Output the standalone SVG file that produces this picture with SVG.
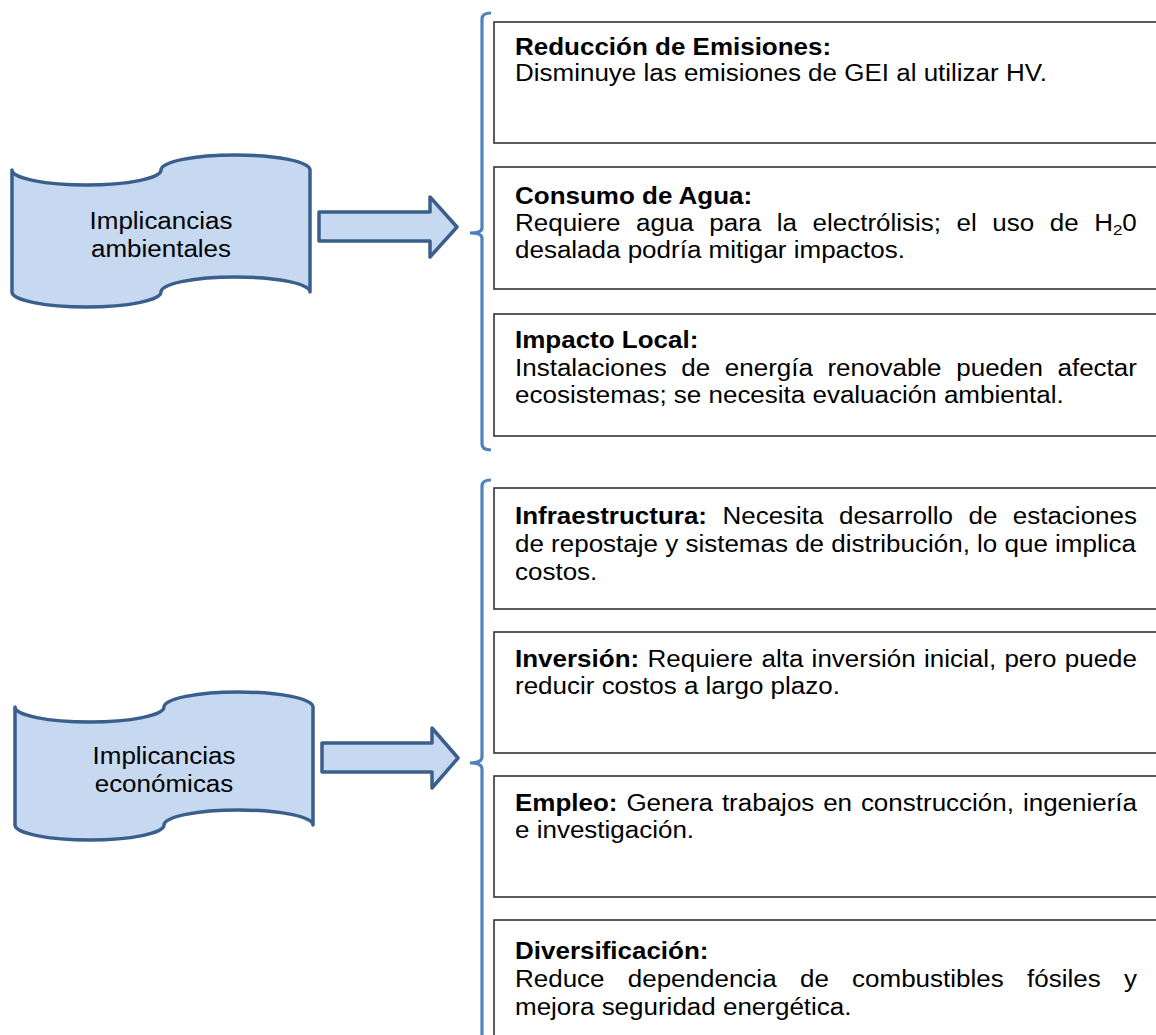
<svg xmlns="http://www.w3.org/2000/svg" width="1156" height="1035" viewBox="0 0 1156 1035">
<style>
.shape{fill:#C6D9F1;stroke:#3A5F8C;stroke-width:3.5;stroke-linejoin:round}
.brace{fill:none;stroke:#4F81BD;stroke-width:3.2;stroke-linecap:butt}
.box{fill:#FFFFFF;stroke:#333333;stroke-width:1.6}
.lbl{font-family:"Liberation Sans",Arial,sans-serif;font-size:23px;fill:#000;text-anchor:middle}
.t{font-family:"Liberation Sans",Arial,sans-serif;font-size:23px;fill:#000}
.b{font-weight:bold}
</style>
<rect width="1156" height="1035" fill="#FFFFFF"/>
<g id="node-amb">
<path class="shape" d="M12,170 A74.5,15 0 0 0 161,170 A74.5,15 0 0 1 310,170 L310,292 A74.5,15 0 0 0 161,292 A74.5,15 0 0 1 12,292 Z"/>
<text class="lbl" transform="translate(161,229) scale(1.13,1)"><tspan x="0" y="0">Implicancias</tspan><tspan x="0" y="28">ambientales</tspan></text>
</g>
<g id="node-eco">
<path class="shape" d="M15,707 A74.5,15 0 0 0 164,707 A74.5,15 0 0 1 313,707 L313,825 A74.5,15 0 0 0 164,825 A74.5,15 0 0 1 15,825 Z"/>
<text class="lbl" transform="translate(164,764) scale(1.13,1)"><tspan x="0" y="0">Implicancias</tspan><tspan x="0" y="28">económicas</tspan></text>
</g>
<g id="connectors">
<path class="shape" d="M319,212 L430,212 L430,197 L457,227 L430,257 L430,241 L319,241 Z"/>
<path class="shape" d="M322,743 L432,743 L432,728 L458,758 L432,788 L432,772 L322,772 Z"/>
<path class="brace" d="M491,13 Q482,13 482,19 L482,228 Q482,233 470,233 Q482,233 482,238 L482,444 Q482,450 491,450"/>
<path class="brace" d="M491,480 Q482,480 482,486 L482,757 Q482,763 470,763 Q482,763 482,769 L482,1040"/>
</g>
<g id="box-reduccion">
<rect class="box" x="494" y="22" width="680" height="121"/>
<text class="t b" transform="translate(515,55) scale(1.13,1)">Reducción de Emisiones:</text>
<text class="t" transform="translate(515,81) scale(1.13,1)">Disminuye las emisiones de GEI al utilizar HV.</text>
</g>
<g id="box-agua">
<rect class="box" x="494" y="167" width="680" height="122"/>
<text class="t b" transform="translate(515,204) scale(1.13,1)">Consumo de Agua:</text>
<text class="t" transform="translate(515,231) scale(1.13,1)"><tspan x="0">Requiere</tspan><tspan x="107.1">agua</tspan><tspan x="171.9">para</tspan><tspan x="231.7">la</tspan><tspan x="263.3">electrólisis;</tspan><tspan x="390.8">el</tspan><tspan x="422.4">uso</tspan><tspan x="473.2">de</tspan><tspan x="512.5">H</tspan><tspan font-size="15" dy="4">2</tspan><tspan dy="-4">0</tspan></text>
<text class="t" transform="translate(515,258) scale(1.13,1)">desalada podría mitigar impactos.</text>
</g>
<g id="box-impacto">
<rect class="box" x="494" y="314" width="680" height="122"/>
<text class="t b" transform="translate(515,348) scale(1.13,1)">Impacto Local:</text>
<text class="t" transform="translate(515,376) scale(1.13,1)"><tspan x="0">Instalaciones</tspan><tspan x="147.2">de</tspan><tspan x="185.7">energía</tspan><tspan x="276.5">renovable</tspan><tspan x="390.5">pueden</tspan><tspan x="480.1">afectar</tspan></text>
<text class="t" transform="translate(515,403) scale(1.13,1)">ecosistemas; se necesita evaluación ambiental.</text>
</g>
<g id="box-infraestructura">
<rect class="box" x="494" y="488" width="680" height="121"/>
<text class="t" transform="translate(515,524) scale(1.13,1)"><tspan x="0" class="b">Infraestructura:</tspan><tspan x="183.6">Necesita</tspan><tspan x="286.7">desarrollo</tspan><tspan x="401.3">de</tspan><tspan x="440.5">estaciones</tspan></text>
<text class="t" transform="translate(515,552) scale(1.13,1)">de repostaje y sistemas de distribución, lo que implica</text>
<text class="t" transform="translate(515,580) scale(1.13,1)">costos.</text>
</g>
<g id="box-inversion">
<rect class="box" x="494" y="632" width="680" height="121"/>
<text class="t" transform="translate(515,667) scale(1.13,1)"><tspan x="0" class="b">Inversión:</tspan><tspan x="117.3">Requiere</tspan><tspan x="218.1">alta</tspan><tspan x="262.5">inversión</tspan><tspan x="361.9">inicial,</tspan><tspan x="433.1">pero</tspan><tspan x="486.5">puede</tspan></text>
<text class="t" transform="translate(515,694) scale(1.13,1)">reducir costos a largo plazo.</text>
</g>
<g id="box-empleo">
<rect class="box" x="494" y="776" width="680" height="121"/>
<text class="t" transform="translate(515,811) scale(1.13,1)"><tspan x="0" class="b">Empleo:</tspan><tspan x="98.6">Genera</tspan><tspan x="183.1">trabajos</tspan><tspan x="272.7">en</tspan><tspan x="306.1">construcción,</tspan><tspan x="449.5">ingeniería</tspan></text>
<text class="t" transform="translate(515,838) scale(1.13,1)">e investigación.</text>
</g>
<g id="box-diversificacion">
<rect class="box" x="494" y="920" width="680" height="130"/>
<text class="t b" transform="translate(515,959) scale(1.13,1)">Diversificación:</text>
<text class="t" transform="translate(515,987) scale(1.13,1)"><tspan x="0">Reduce</tspan><tspan x="99.8">dependencia</tspan><tspan x="252.2">de</tspan><tspan x="298.3">combustibles</tspan><tspan x="453.1">fósiles</tspan><tspan x="538.9">y</tspan></text>
<text class="t" transform="translate(515,1015) scale(1.13,1)">mejora seguridad energética.</text>
</g>
</svg>
